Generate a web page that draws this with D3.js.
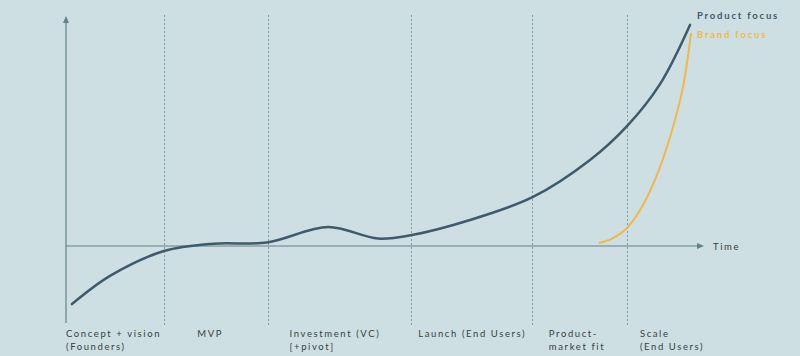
<!DOCTYPE html>
<html><head><meta charset="utf-8">
<script src="https://cdn.jsdelivr.net/npm/d3@7"></script>
<style>
html,body{margin:0;padding:0;background:#cddfe2;}
svg{display:block;}
text{font-family:Lato,"Open Sans",sans-serif;}
</style></head><body>
<script>
// Stage boundaries (time units, 0..100)
const stageBounds = [15.4, 31.7, 54.2, 73.2, 88.1];
// Stage labels: [time position, lines]
const stageLabelX = [0, 20.6, 35.1, 55.3, 75.8, 90.1];
const stageLabels = [
  ["Concept + vision", "(Founders)"],
  ["MVP"],
  ["Investment (VC)", "[+pivot]"],
  ["Launch (End Users)"],
  ["Product-", "market fit"],
  ["Scale", "(End Users)"]
];
// Product focus curve
const productX = [0.94, 6.91, 15.38, 23.08, 31.55, 41.13, 48.98, 54.32, 63.42, 73.31, 82.26, 88.07, 93.25, 97.96];
const productY = [-26.4, -13.6, -2.3, 1.05, 1.6, 8.6, 3.4, 5.0, 11.8, 22.3, 39.1, 54.5, 73.6, 100.5];
// Brand focus curve
const brandX = [83.67, 85.71, 88.07, 90.58, 93.25, 95.29, 96.86, 98.12];
const brandY = [1.36, 3.4, 8.2, 18.6, 35.9, 54.1, 72.3, 96.8];
const seriesNames = ["Product focus", "Brand focus"];
const axisLabel = "Time";

const W = 800, H = 356;
const svg = d3.select("body").append("svg").attr("width", W).attr("height", H);
svg.append("rect").attr("width", W).attr("height", H).attr("fill", "#cddfe2");

const x = d3.scaleLinear().domain([0, 100]).range([66, 703]);
const y = d3.scaleLinear().domain([0, 100]).range([246, 26]);

const axisColor = "#5f8389";
const productColor = "#3e5a6b";
const brandColor = "#f0b947";
const textColor = "#3a3d40";

// dotted stage lines
svg.selectAll("line.stage").data(stageBounds).enter().append("line")
  .attr("class", "stage")
  .attr("x1", d => Math.round(x(d)) + 0.5).attr("x2", d => Math.round(x(d)) + 0.5)
  .attr("y1", 15).attr("y2", 327)
  .attr("stroke", "#7f9ea4").attr("stroke-width", 1)
  .attr("stroke-dasharray", "2,2");

// axes
svg.append("line").attr("x1", x(0)).attr("x2", x(0)).attr("y1", 20).attr("y2", 323)
  .attr("stroke", axisColor).attr("stroke-width", 1.2);
svg.append("path").attr("d", `M${x(0)},16 L${x(0)-3},23 L${x(0)+3},23 Z`).attr("fill", axisColor);
svg.append("line").attr("x1", x(0)).attr("x2", x(100) - 3).attr("y1", y(0)).attr("y2", y(0))
  .attr("stroke", axisColor).attr("stroke-width", 1.2);
svg.append("path").attr("d", `M${x(100)+1},${y(0)} L${x(100)-6},${y(0)-3} L${x(100)-6},${y(0)+3} Z`).attr("fill", axisColor);
svg.append("text").attr("x", x(100) + 10).attr("y", y(0) + 4)
  .attr("font-size", 9.5).attr("letter-spacing", 1.6).attr("fill", textColor).text(axisLabel);

// curves
const line = d3.line().x(d => x(d[0])).y(d => y(d[1])).curve(d3.curveCatmullRom.alpha(0.5));
svg.append("path").datum(brandX.map((v, i) => [v, brandY[i]]))
  .attr("d", line).attr("fill", "none").attr("stroke", brandColor).attr("stroke-width", 2);
svg.append("path").datum(productX.map((v, i) => [v, productY[i]]))
  .attr("d", line).attr("fill", "none").attr("stroke", productColor).attr("stroke-width", 2.5)
  .attr("stroke-linecap", "round");

// legend labels
svg.append("text").attr("x", 697).attr("y", 19).attr("font-size", 9.5).attr("font-weight", "bold")
  .attr("letter-spacing", 1.8).attr("fill", productColor).text(seriesNames[0]);
svg.append("text").attr("x", 697).attr("y", 38).attr("font-size", 9.5).attr("font-weight", "bold")
  .attr("letter-spacing", 1.8).attr("fill", brandColor).text(seriesNames[1]);

// stage labels
stageLabels.forEach((lines, i) => {
  const t = svg.append("text").attr("x", x(stageLabelX[i])).attr("y", 337)
    .attr("font-size", 9.5).attr("letter-spacing", 1.6).attr("fill", textColor);
  lines.forEach((s, j) => {
    t.append("tspan").attr("x", x(stageLabelX[i])).attr("y", 337 + j * 13).text(s);
  });
});
</script>
</body></html>
